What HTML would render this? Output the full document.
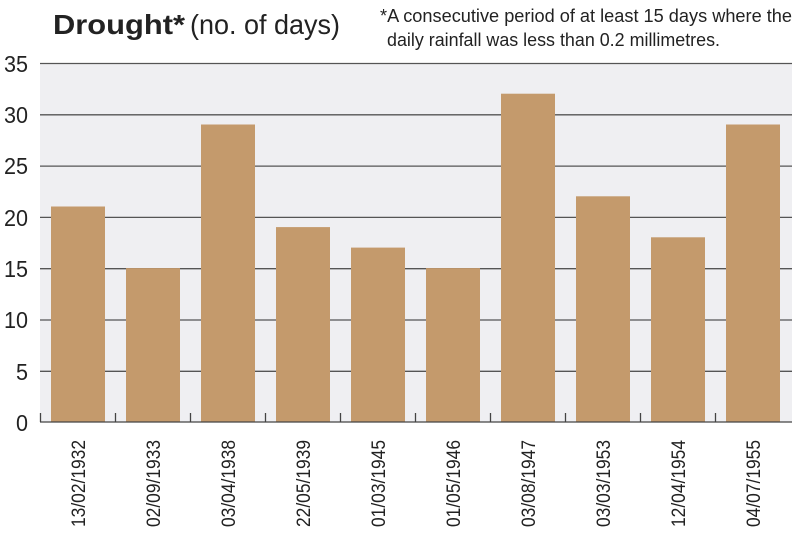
<!DOCTYPE html>
<html><head><style>body{margin:0;background:#fff}svg{display:block}</style></head><body>
<svg width="800" height="536" xmlns="http://www.w3.org/2000/svg" font-family="Liberation Sans, sans-serif">
<rect x="40" y="63" width="752" height="359" fill="#efeff2"/>
<g stroke="#555" stroke-width="1.3">
<line x1="40" x2="792" y1="63.5" y2="63.5"/>
<line x1="40" x2="792" y1="114.8" y2="114.8"/>
<line x1="40" x2="792" y1="166.1" y2="166.1"/>
<line x1="40" x2="792" y1="217.4" y2="217.4"/>
<line x1="40" x2="792" y1="268.7" y2="268.7"/>
<line x1="40" x2="792" y1="320" y2="320"/>
<line x1="40" x2="792" y1="371.3" y2="371.3"/>
</g>
<g fill="#c49a6c">
<rect x="51" y="206.5" width="54" height="215.5"/>
<rect x="126" y="268.1" width="54" height="153.9"/>
<rect x="201" y="124.5" width="54" height="297.5"/>
<rect x="276" y="227.1" width="54" height="194.9"/>
<rect x="351" y="247.6" width="54" height="174.4"/>
<rect x="426" y="268.1" width="54" height="153.9"/>
<rect x="501" y="93.7" width="54" height="328.3"/>
<rect x="576" y="196.3" width="54" height="225.7"/>
<rect x="651" y="237.3" width="54" height="184.7"/>
<rect x="726" y="124.5" width="54" height="297.5"/>
</g>
<g stroke="#444" stroke-width="1.3">
<line x1="40" x2="792" y1="422" y2="422"/>
<line x1="40.5" x2="40.5" y1="413" y2="422"/><line x1="115.5" x2="115.5" y1="413" y2="422"/><line x1="190.5" x2="190.5" y1="413" y2="422"/><line x1="265.5" x2="265.5" y1="413" y2="422"/><line x1="340.5" x2="340.5" y1="413" y2="422"/><line x1="415.5" x2="415.5" y1="413" y2="422"/><line x1="490.5" x2="490.5" y1="413" y2="422"/><line x1="565.5" x2="565.5" y1="413" y2="422"/><line x1="640.5" x2="640.5" y1="413" y2="422"/><line x1="715.5" x2="715.5" y1="413" y2="422"/>
</g>
<g fill="#222" font-size="23" text-anchor="end">
<text x="28" y="72" textLength="24" lengthAdjust="spacingAndGlyphs">35</text>
<text x="28" y="123" textLength="24" lengthAdjust="spacingAndGlyphs">30</text>
<text x="28" y="174" textLength="24" lengthAdjust="spacingAndGlyphs">25</text>
<text x="28" y="226" textLength="24" lengthAdjust="spacingAndGlyphs">20</text>
<text x="28" y="277" textLength="24" lengthAdjust="spacingAndGlyphs">15</text>
<text x="28" y="328" textLength="24" lengthAdjust="spacingAndGlyphs">10</text>
<text x="28" y="380" textLength="12" lengthAdjust="spacingAndGlyphs">5</text>
<text x="28" y="431" textLength="12" lengthAdjust="spacingAndGlyphs">0</text>
</g>
<g fill="#222" font-size="19" text-anchor="end">
<text transform="translate(85,440) rotate(-90)" textLength="87" lengthAdjust="spacingAndGlyphs">13/02/1932</text>
<text transform="translate(160,440) rotate(-90)" textLength="87" lengthAdjust="spacingAndGlyphs">02/09/1933</text>
<text transform="translate(235,440) rotate(-90)" textLength="87" lengthAdjust="spacingAndGlyphs">03/04/1938</text>
<text transform="translate(310,440) rotate(-90)" textLength="87" lengthAdjust="spacingAndGlyphs">22/05/1939</text>
<text transform="translate(385,440) rotate(-90)" textLength="87" lengthAdjust="spacingAndGlyphs">01/03/1945</text>
<text transform="translate(460,440) rotate(-90)" textLength="87" lengthAdjust="spacingAndGlyphs">01/05/1946</text>
<text transform="translate(535,440) rotate(-90)" textLength="87" lengthAdjust="spacingAndGlyphs">03/08/1947</text>
<text transform="translate(610,440) rotate(-90)" textLength="87" lengthAdjust="spacingAndGlyphs">03/03/1953</text>
<text transform="translate(685,440) rotate(-90)" textLength="87" lengthAdjust="spacingAndGlyphs">12/04/1954</text>
<text transform="translate(760,440) rotate(-90)" textLength="87" lengthAdjust="spacingAndGlyphs">04/07/1955</text>
</g>
<text x="53" y="34" font-size="28" font-weight="bold" fill="#222" textLength="132" lengthAdjust="spacingAndGlyphs">Drought*</text>
<text x="190" y="34" font-size="28" fill="#222" textLength="150" lengthAdjust="spacingAndGlyphs">(no. of days)</text>
<text x="380" y="22" font-size="18" fill="#222" textLength="412" lengthAdjust="spacingAndGlyphs">*A consecutive period of at least 15 days where the</text>
<text x="387" y="46" font-size="18" fill="#222" textLength="333" lengthAdjust="spacingAndGlyphs">daily rainfall was less than 0.2 millimetres.</text>
</svg>
</body></html>
